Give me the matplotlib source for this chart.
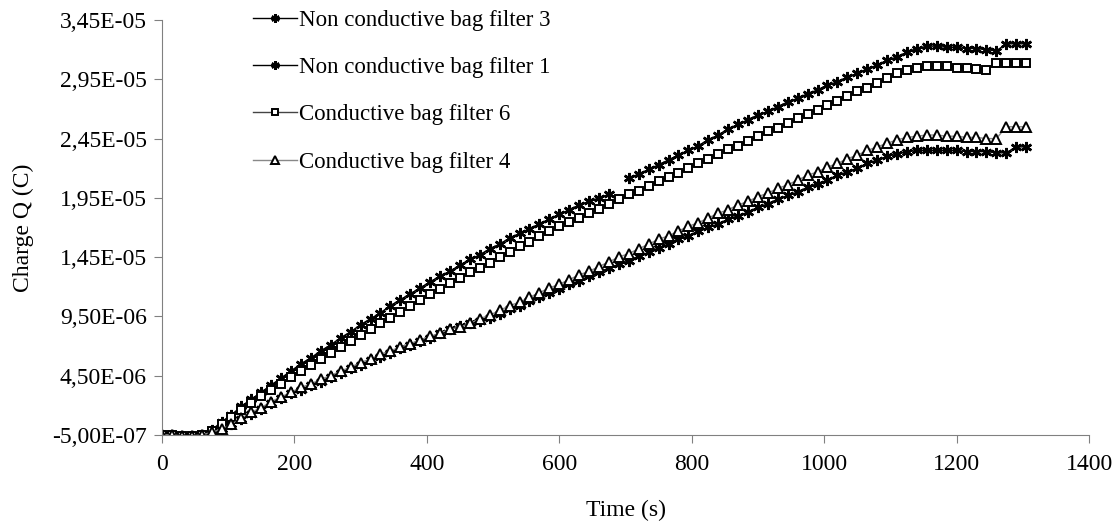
import numpy as np
import matplotlib
matplotlib.use("Agg")
import matplotlib.pyplot as plt
from matplotlib.ticker import FuncFormatter, MultipleLocator

plt.rcParams['font.family'] = ['Liberation Serif', 'DejaVu Serif']

# sampling times (s), one marker every 15 s
t = np.arange(0, 1320, 15)

# charges in 1e-6 C
nc3 = [-0.5, -0.5, -0.6, -0.6, -0.5, -0.3, 0.0, 0.4, 0.8, 1.3, 1.7, 2.2, 2.6, 3.0,
       3.3, 3.7, 4.0, 4.4, 4.7, 5.1, 5.4, 5.8, 6.1, 6.4, 6.8, 7.1, 7.4, 7.7, 8.1, 8.4,
       8.7, 8.9, 9.1, 9.4, 9.7, 10.1, 10.4, 10.8, 11.1, 11.5, 11.8, 12.2, 12.5, 12.9,
       13.2, 13.6, 13.9, 14.2, 14.6, 14.9, 15.3, 15.6, 16.0, 16.3, 16.7, 17.0, 17.3,
       17.7, 18.0, 18.3, 18.7, 19.0, 19.4, 19.7, 20.0, 20.4, 20.7, 21.0, 21.4, 21.7,
       22.0, 22.4, 22.7, 23.0, 23.2, 23.4, 23.5, 23.5, 23.5, 23.5, 23.5, 23.4, 23.4,
       23.4, 23.3, 23.3, 23.8, 23.8]

nc1 = [-0.5, -0.5, -0.6, -0.6, -0.5, -0.1, 0.6, 1.2, 1.9, 2.5, 3.1, 3.7, 4.3, 4.9,
       5.5, 6.0, 6.6, 7.1, 7.7, 8.2, 8.8, 9.3, 9.8, 10.4, 10.9, 11.4, 11.9, 12.4, 12.9,
       13.3, 13.8, 14.3, 14.7, 15.2, 15.6, 16.1, 16.5, 16.9, 17.3, 17.7, 18.1, 18.5,
       18.9, 19.2, 19.5, 19.8, np.nan, 21.2, 21.5, 21.9, 22.3, 22.7, 23.1, 23.5, 23.9,
       24.4, 24.8, 25.3, 25.7, 26.1, 26.5, 26.8, 27.2, 27.6, 27.9, 28.3, 28.6, 29.0,
       29.3, 29.7, 30.0, 30.4, 30.7, 31.1, 31.4, 31.8, 32.1, 32.3, 32.3, 32.2, 32.2,
       32.1, 32.1, 32.0, 31.9, 32.5, 32.5, 32.5]

cb6 = [-0.5, -0.5, -0.6, -0.6, -0.5, -0.2, 0.4, 1.0, 1.6, 2.2, 2.8, 3.3, 3.8, 4.4,
       4.9, 5.4, 5.9, 6.4, 6.9, 7.4, 7.9, 8.4, 8.9, 9.4, 9.9, 10.4, 10.9, 11.4, 11.8,
       12.3, 12.7, 13.2, 13.6, 14.0, 14.5, 14.9, 15.4, 15.8, 16.3, 16.7, 17.1, 17.5,
       17.8, 18.2, 18.6, 19.0, 19.4, 19.8, 20.1, 20.5, 20.9, 21.3, 21.6, 22.0, 22.4,
       22.8, 23.2, 23.6, 23.9, 24.3, 24.7, 25.1, 25.4, 25.8, 26.2, 26.6, 26.9, 27.3,
       27.7, 28.1, 28.5, 28.8, 29.2, 29.6, 30.0, 30.3, 30.5, 30.6, 30.6, 30.6, 30.5,
       30.5, 30.4, 30.3, 30.9, 30.9, 30.9, 30.9]

cb4 = [-0.5, -0.5, -0.6, -0.6, -0.5, -0.3, 0.0, 0.4, 0.9, 1.4, 1.8, 2.3, 2.7, 3.1,
       3.5, 3.8, 4.2, 4.5, 4.9, 5.2, 5.6, 5.9, 6.3, 6.6, 6.9, 7.2, 7.5, 7.8, 8.1, 8.4,
       8.6, 8.9, 9.3, 9.6, 10.0, 10.4, 10.7, 11.1, 11.5, 11.9, 12.2, 12.6, 13.0, 13.3,
       13.7, 14.1, 14.5, 14.8, 15.2, 15.6, 16.0, 16.3, 16.7, 17.1, 17.4, 17.8, 18.2,
       18.5, 18.9, 19.2, 19.6, 19.9, 20.3, 20.6, 21.0, 21.4, 21.7, 22.1, 22.4, 22.8,
       23.1, 23.5, 23.8, 24.1, 24.4, 24.6, 24.7, 24.8, 24.8, 24.7, 24.7, 24.6, 24.6,
       24.5, 24.5, 25.5, 25.5, 25.5]

labels = ['Non conductive bag filter 3', 'Non conductive bag filter 1',
          'Conductive bag filter 6', 'Conductive bag filter 4']

fig = plt.figure(figsize=(11.17, 5.29), dpi=100)
ax = fig.add_axes([0.145, 0.178, 0.830, 0.784])

star = (6, 2, 0)
ax.plot(t[:len(nc3)], np.array(nc3) * 1e-6, color='black', lw=1, marker=star,
        ms=8, mew=1.8, label=labels[0])
ax.plot(t[:len(nc1)], np.array(nc1) * 1e-6, color='black', lw=1, marker=star,
        ms=8, mew=1.8, label=labels[1])
ax.plot(t[:len(cb6)], np.array(cb6) * 1e-6, color='#444444', lw=1, marker='s',
        ms=5.5, mfc='white', mec='black', mew=1.4, label=labels[2])
ax.plot(t[:len(cb4)], np.array(cb4) * 1e-6, color='#888888', lw=1, marker='^',
        ms=7, mfc='white', mec='black', mew=1.4, label=labels[3])

ax.set_xlim(0, 1400)
ax.set_ylim(-0.5e-6, 34.5e-6)
ax.xaxis.set_major_locator(MultipleLocator(200))
ax.set_yticks(np.arange(-0.5e-6, 35e-6, 5e-6))
ax.yaxis.set_major_formatter(FuncFormatter(lambda v, p: f"{v:.2E}".replace('.', ',')))

for s in ['top', 'right']:
    ax.spines[s].set_visible(False)
for s in ['left', 'bottom']:
    ax.spines[s].set_color('#808080')
ax.tick_params(axis='both', colors='#808080', labelcolor='black', labelsize=17,
               length=6, direction='out')
ax.tick_params(axis='x', pad=8)
ax.tick_params(axis='y', pad=5)

ax.set_xlabel('Time (s)', fontsize=17, labelpad=18)
ax.set_ylabel('Charge Q (C)', fontsize=17, labelpad=13)

leg = ax.legend(loc='upper left', bbox_to_anchor=(0.076, 1.075), frameon=False,
                fontsize=16.5, labelspacing=1.15, handlelength=1.9, handletextpad=0.1,
                markerscale=0.75)

fig.savefig('out.png', dpi=100)
